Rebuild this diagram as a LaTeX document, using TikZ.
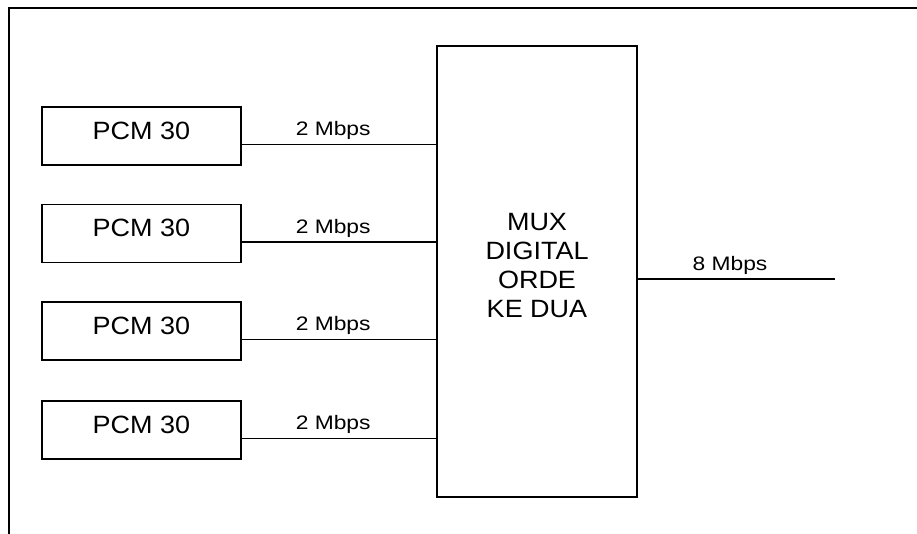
\documentclass[tikz,border=0pt]{standalone}
\usepackage{fontspec}
\setmainfont{Liberation Sans}
\newfontfamily\bigfam[FakeStretch=1.08]{Liberation Sans}
\newfontfamily\labelfam[FakeStretch=1.17]{Liberation Sans}
\begin{document}
\begin{tikzpicture}[x=1pt,y=-1pt,
  pcmbox/.style={draw,line width=1.5pt,minimum width=199pt,minimum height=58pt,inner sep=0pt,text depth=11pt,font=\bigfam\fontsize{25}{29}\selectfont},
  muxbox/.style={draw,line width=1.5pt,minimum width=200pt,minimum height=451pt,inner sep=0pt},
  bigtext/.style={align=center,font=\bigfam\fontsize{25}{29}\selectfont},
  ratelabel/.style={font=\labelfam\fontsize{19.5}{23}\selectfont,inner sep=0pt},
  wire/.style={line width=1.2pt},
  frameline/.style={line width=1.5pt}]
\useasboundingbox (0,0) rectangle (917,534);
\draw[frameline] (9,534) -- (9,8) -- (917,8);
\node[muxbox] (mux) at (537,271.5) {};
\node[bigtext] (muxtext) at (537,266) {MUX\\DIGITAL\\ORDE\\KE DUA};
\node[pcmbox] (p1) at (141.5,136) {PCM 30};
\node[pcmbox] (p2) at (141.5,233.5) {PCM 30};
\node[pcmbox] (p3) at (141.5,331) {PCM 30};
\node[pcmbox] (p4) at (141.5,430) {PCM 30};
\foreach \i in {1,2,3,4}{
  \draw[wire] ([yshift=-8.5pt]p\i.east) -- ([yshift=-8.5pt]p\i.east -| mux.west)
    node[ratelabel,pos=0.47,above=4pt] {2 Mbps};
}
\coordinate (out) at (835,279);
\draw[wire] (mux.east |- out) -- (out);
\node[ratelabel] (rate8) at (730,265.5) {8 Mbps};
\end{tikzpicture}
\end{document}
